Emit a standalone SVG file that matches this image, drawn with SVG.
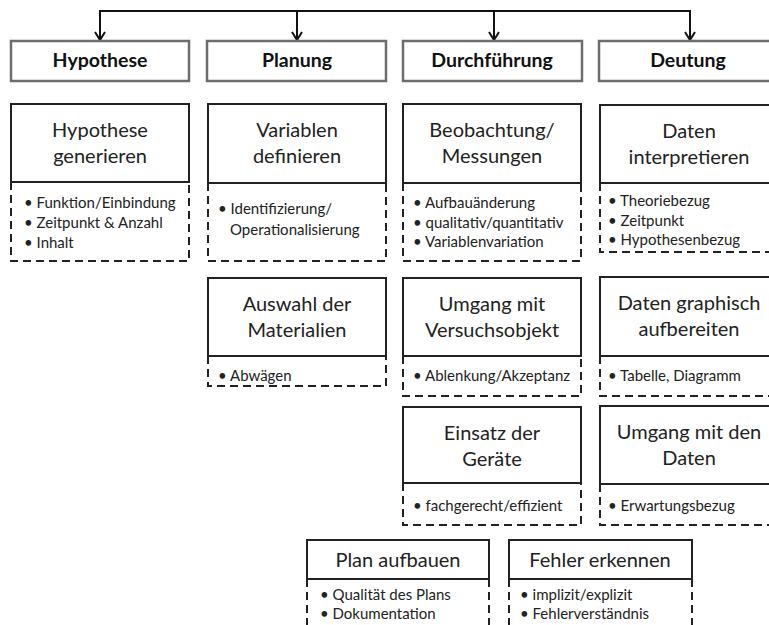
<svg xmlns="http://www.w3.org/2000/svg" width="769" height="625" viewBox="0 0 769 625">
<defs>
<marker id="arr" markerWidth="10" markerHeight="12" refX="9" refY="6" orient="auto" markerUnits="userSpaceOnUse" viewBox="0 0 10 12">
<path d="M1,1 L9,6 L1,11" fill="none" stroke="#111" stroke-width="2"/>
</marker>
<style>
.hdr{fill:#fff;stroke:#6e6e6e;stroke-width:2.5}
.box{fill:#fff;stroke:#222;stroke-width:2}
.dash{fill:none;stroke:#222;stroke-width:2;stroke-dasharray:8 5}
.ht{font-family:Lato,"Liberation Sans",sans-serif;font-weight:bold;font-size:19.5px;fill:#111;text-anchor:middle}
.mt{font-family:Lato,"Liberation Sans",sans-serif;font-size:20px;fill:#222;text-anchor:middle}
.bt{font-family:Lato,"Liberation Sans",sans-serif;font-size:15px;fill:#222}
.con{fill:none;stroke:#111;stroke-width:2}
</style>
</defs>
<rect width="769" height="625" fill="#fff"/>
<g id="connectors">
<path class="con" d="M100,11 H690"/>
<path class="con" d="M100,10 V40" marker-end="url(#arr)"/>
<path class="con" d="M297,11 V40" marker-end="url(#arr)"/>
<path class="con" d="M494,11 V40" marker-end="url(#arr)"/>
<path class="con" d="M690,10 V40" marker-end="url(#arr)"/>
</g>
<g id="hypothese">
<rect class="hdr" x="11" y="41" width="178" height="40"/>
<text class="ht" x="100" y="67">Hypothese</text>
</g>
<g id="planung">
<rect class="hdr" x="207" y="41" width="179" height="40"/>
<text class="ht" x="297" y="67">Planung</text>
</g>
<g id="durchfuehrung">
<rect class="hdr" x="403" y="41" width="179" height="40"/>
<text class="ht" x="492" y="67">Durchführung</text>
</g>
<g id="deutung">
<rect class="hdr" x="599" y="41" width="180" height="40"/>
<text class="ht" x="688" y="67">Deutung</text>
</g>
<g id="hypothese-generieren">
<path class="dash" d="M11,182 V261 H189 V182"/>
<rect class="box" x="11" y="104" width="178" height="78"/>
<text class="mt" x="100" y="137">Hypothese</text>
<text class="mt" x="100" y="163">generieren</text>
<text class="bt" x="24" y="208">• Funktion/Einbindung</text>
<text class="bt" x="24" y="228">• Zeitpunkt &amp; Anzahl</text>
<text class="bt" x="24" y="248">• Inhalt</text>
</g>
<g id="variablen-definieren">
<path class="dash" d="M208,183 V261 H386 V183"/>
<rect class="box" x="208" y="104" width="178" height="79"/>
<text class="mt" x="297" y="137">Variablen</text>
<text class="mt" x="297" y="163">definieren</text>
<text class="bt" x="218" y="214">• Identifizierung/</text>
<text class="bt" x="230" y="235">Operationalisierung</text>
</g>
<g id="beobachtung">
<path class="dash" d="M403,183 V261 H581 V183"/>
<rect class="box" x="403" y="104" width="178" height="79"/>
<text class="mt" x="492" y="137">Beobachtung/</text>
<text class="mt" x="492" y="163">Messungen</text>
<text class="bt" x="413" y="208">• Aufbauänderung</text>
<text class="bt" x="413" y="228">• qualitativ/quantitativ</text>
<text class="bt" x="413" y="247">• Variablenvariation</text>
</g>
<g id="daten-interpretieren">
<path class="dash" d="M600,183 V252 H779"/>
<rect class="box" x="600" y="105" width="179" height="78"/>
<text class="mt" x="689" y="138">Daten</text>
<text class="mt" x="689" y="164">interpretieren</text>
<text class="bt" x="608" y="206">• Theoriebezug</text>
<text class="bt" x="608" y="226">• Zeitpunkt</text>
<text class="bt" x="608" y="245">• Hypothesenbezug</text>
</g>
<g id="auswahl-materialien">
<path class="dash" d="M208,356 V386 H386 V356"/>
<rect class="box" x="208" y="278" width="178" height="78"/>
<text class="mt" x="297" y="311">Auswahl der</text>
<text class="mt" x="297" y="337">Materialien</text>
<text class="bt" x="218" y="381">• Abwägen</text>
</g>
<g id="umgang-versuchsobjekt">
<path class="dash" d="M403,356 V396 H581 V356"/>
<rect class="box" x="403" y="278" width="178" height="78"/>
<text class="mt" x="492" y="311">Umgang mit</text>
<text class="mt" x="492" y="337">Versuchsobjekt</text>
<text class="bt" x="413" y="381">• Ablenkung/Akzeptanz</text>
</g>
<g id="daten-graphisch">
<path class="dash" d="M600,356 V396 H779"/>
<rect class="box" x="600" y="277" width="179" height="79"/>
<text class="mt" x="689" y="310">Daten graphisch</text>
<text class="mt" x="689" y="336">aufbereiten</text>
<text class="bt" x="608" y="381">• Tabelle, Diagramm</text>
</g>
<g id="einsatz-geraete">
<path class="dash" d="M403,483 V525 H581 V483"/>
<rect class="box" x="403" y="407" width="178" height="76"/>
<text class="mt" x="492" y="440">Einsatz der</text>
<text class="mt" x="492" y="466">Geräte</text>
<text class="bt" x="413" y="511">• fachgerecht/effizient</text>
</g>
<g id="umgang-daten">
<path class="dash" d="M600,484 V525 H779"/>
<rect class="box" x="600" y="406" width="179" height="78"/>
<text class="mt" x="689" y="439">Umgang mit den</text>
<text class="mt" x="689" y="465">Daten</text>
<text class="bt" x="608" y="511">• Erwartungsbezug</text>
</g>
<g id="plan-aufbauen">
<path class="dash" d="M307,579 V630 M489,579 V630"/>
<rect class="box" x="307" y="540" width="182" height="39"/>
<text class="mt" x="398" y="567">Plan aufbauen</text>
<text class="bt" x="320" y="600">• Qualität des Plans</text>
<text class="bt" x="320" y="619">• Dokumentation</text>
</g>
<g id="fehler-erkennen">
<path class="dash" d="M509,579 V630 M692,579 V630"/>
<rect class="box" x="509" y="540" width="183" height="39"/>
<text class="mt" x="600" y="567">Fehler erkennen</text>
<text class="bt" x="520" y="600">• implizit/explizit</text>
<text class="bt" x="520" y="619">• Fehlerverständnis</text>
</g>
</svg>
